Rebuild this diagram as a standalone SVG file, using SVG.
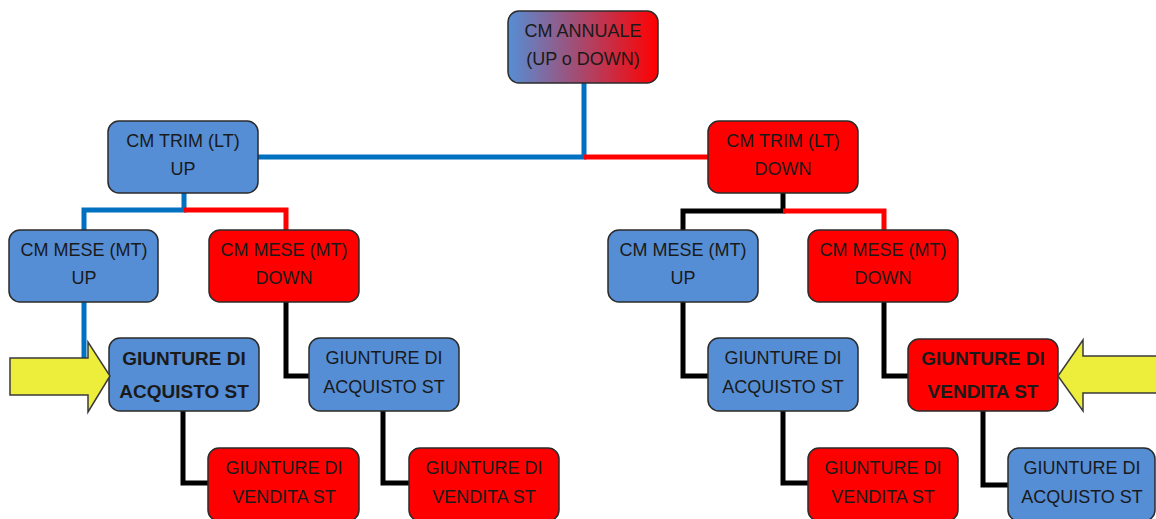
<svg xmlns="http://www.w3.org/2000/svg" width="1156" height="519" viewBox="0 0 1156 519">
<defs>
<linearGradient id="gTop" x1="0" y1="0" x2="1" y2="0">
<stop offset="0" stop-color="#558ED5"/>
<stop offset="1" stop-color="#FF0000"/>
</linearGradient>
</defs>
<style>
.box{stroke:#2b2b2b;stroke-width:1.5}
.blue{fill:#558ED5}
.red{fill:#FF0000}
.t{font-family:"Liberation Sans",Arial,sans-serif;font-size:18px;fill:#1a1a1a;text-anchor:middle}
.b{font-family:"Liberation Sans",Arial,sans-serif;font-size:19px;font-weight:bold;fill:#1a1a1a;text-anchor:middle}
.cb{fill:none;stroke:#0070C0;stroke-width:5}
.cr{fill:none;stroke:#FF0000;stroke-width:5}
.ck{fill:none;stroke:#000;stroke-width:5}
.arrow{fill:#EDED3C;stroke:#3a3a3a;stroke-width:1.5}
</style>
<rect width="1156" height="519" fill="#fff"/>
<g id="connectors">
<path class="cb" d="M584,83 V157 H258"/>
<path class="cr" d="M584,157 H708"/>
<path class="cb" d="M184,193 V210 H84 V230"/>
<path class="cr" d="M184,210 H286 V230"/>
<path class="ck" d="M783,193 V211 H683 V230"/>
<path class="cr" d="M783,211 H884 V230"/>
<path class="cb" d="M84,302 V376 H109"/>
<path class="ck" d="M286,302 V376 H309"/>
<path class="ck" d="M683,302 V376 H708"/>
<path class="ck" d="M884,302 V376 H908"/>
<path class="ck" d="M183,411 V483 H208"/>
<path class="ck" d="M383,411 V483 H409"/>
<path class="ck" d="M783,411 V483 H808"/>
<path class="ck" d="M983,411 V485 H1008"/>
</g>
<g id="n-annuale">
<rect class="box" x="508" y="11" width="150" height="72" rx="11" fill="url(#gTop)"/>
<text class="t" x="583" y="37">CM ANNUALE</text>
<text class="t" x="583" y="65">(UP o DOWN)</text>
</g>
<g id="n-trim-up">
<rect class="box blue" x="108" y="121" width="150" height="72" rx="11"/>
<text class="t" x="183" y="147">CM TRIM (LT)</text>
<text class="t" x="183" y="175">UP</text>
</g>
<g id="n-trim-down">
<rect class="box red" x="708" y="121" width="150" height="72" rx="11"/>
<text class="t" x="783" y="147">CM TRIM (LT)</text>
<text class="t" x="783" y="175">DOWN</text>
</g>
<g id="n-mese-up-l">
<rect class="box blue" x="9" y="230" width="149" height="72" rx="11"/>
<text class="t" x="84" y="256">CM MESE (MT)</text>
<text class="t" x="84" y="284">UP</text>
</g>
<g id="n-mese-down-l">
<rect class="box red" x="209" y="230" width="150" height="72" rx="11"/>
<text class="t" x="284" y="256">CM MESE (MT)</text>
<text class="t" x="284" y="284">DOWN</text>
</g>
<g id="n-mese-up-r">
<rect class="box blue" x="608" y="230" width="150" height="72" rx="11"/>
<text class="t" x="683" y="256">CM MESE (MT)</text>
<text class="t" x="683" y="284">UP</text>
</g>
<g id="n-mese-down-r">
<rect class="box red" x="808" y="230" width="150" height="72" rx="11"/>
<text class="t" x="883" y="256">CM MESE (MT)</text>
<text class="t" x="883" y="284">DOWN</text>
</g>
<g id="n-acq-1">
<rect class="box blue" x="109" y="338" width="150" height="73" rx="11"/>
<text class="b" x="184" y="365">GIUNTURE DI</text>
<text class="b" x="184" y="398">ACQUISTO ST</text>
</g>
<g id="n-acq-2">
<rect class="box blue" x="309" y="338" width="150" height="73" rx="11"/>
<text class="t" x="384" y="364">GIUNTURE DI</text>
<text class="t" x="384" y="393">ACQUISTO ST</text>
</g>
<g id="n-acq-3">
<rect class="box blue" x="708" y="338" width="150" height="73" rx="11"/>
<text class="t" x="783" y="364">GIUNTURE DI</text>
<text class="t" x="783" y="393">ACQUISTO ST</text>
</g>
<g id="n-ven-bold">
<rect class="box red" x="908" y="339" width="150" height="72" rx="11"/>
<text class="b" x="983" y="365">GIUNTURE DI</text>
<text class="b" x="983" y="398">VENDITA ST</text>
</g>
<g id="n-ven-1">
<rect class="box red" x="208" y="448" width="151" height="73" rx="11"/>
<text class="t" x="284" y="474">GIUNTURE DI</text>
<text class="t" x="284" y="503">VENDITA ST</text>
</g>
<g id="n-ven-2">
<rect class="box red" x="409" y="448" width="150" height="73" rx="11"/>
<text class="t" x="484" y="474">GIUNTURE DI</text>
<text class="t" x="484" y="503">VENDITA ST</text>
</g>
<g id="n-ven-3">
<rect class="box red" x="808" y="448" width="150" height="73" rx="11"/>
<text class="t" x="883" y="474">GIUNTURE DI</text>
<text class="t" x="883" y="503">VENDITA ST</text>
</g>
<g id="n-acq-4">
<rect class="box blue" x="1008" y="448" width="147" height="73" rx="11"/>
<text class="t" x="1082" y="474">GIUNTURE DI</text>
<text class="t" x="1082" y="503">ACQUISTO ST</text>
</g>
<g id="arrow-left">
<polygon class="arrow" points="10,358 88,358 88,342 110,376 88,412 88,395 10,395"/>
</g>
<g id="arrow-right">
<polygon class="arrow" points="1160,356 1083,356 1083,340 1058,376 1083,411 1083,393 1160,393"/>
</g>
</svg>
